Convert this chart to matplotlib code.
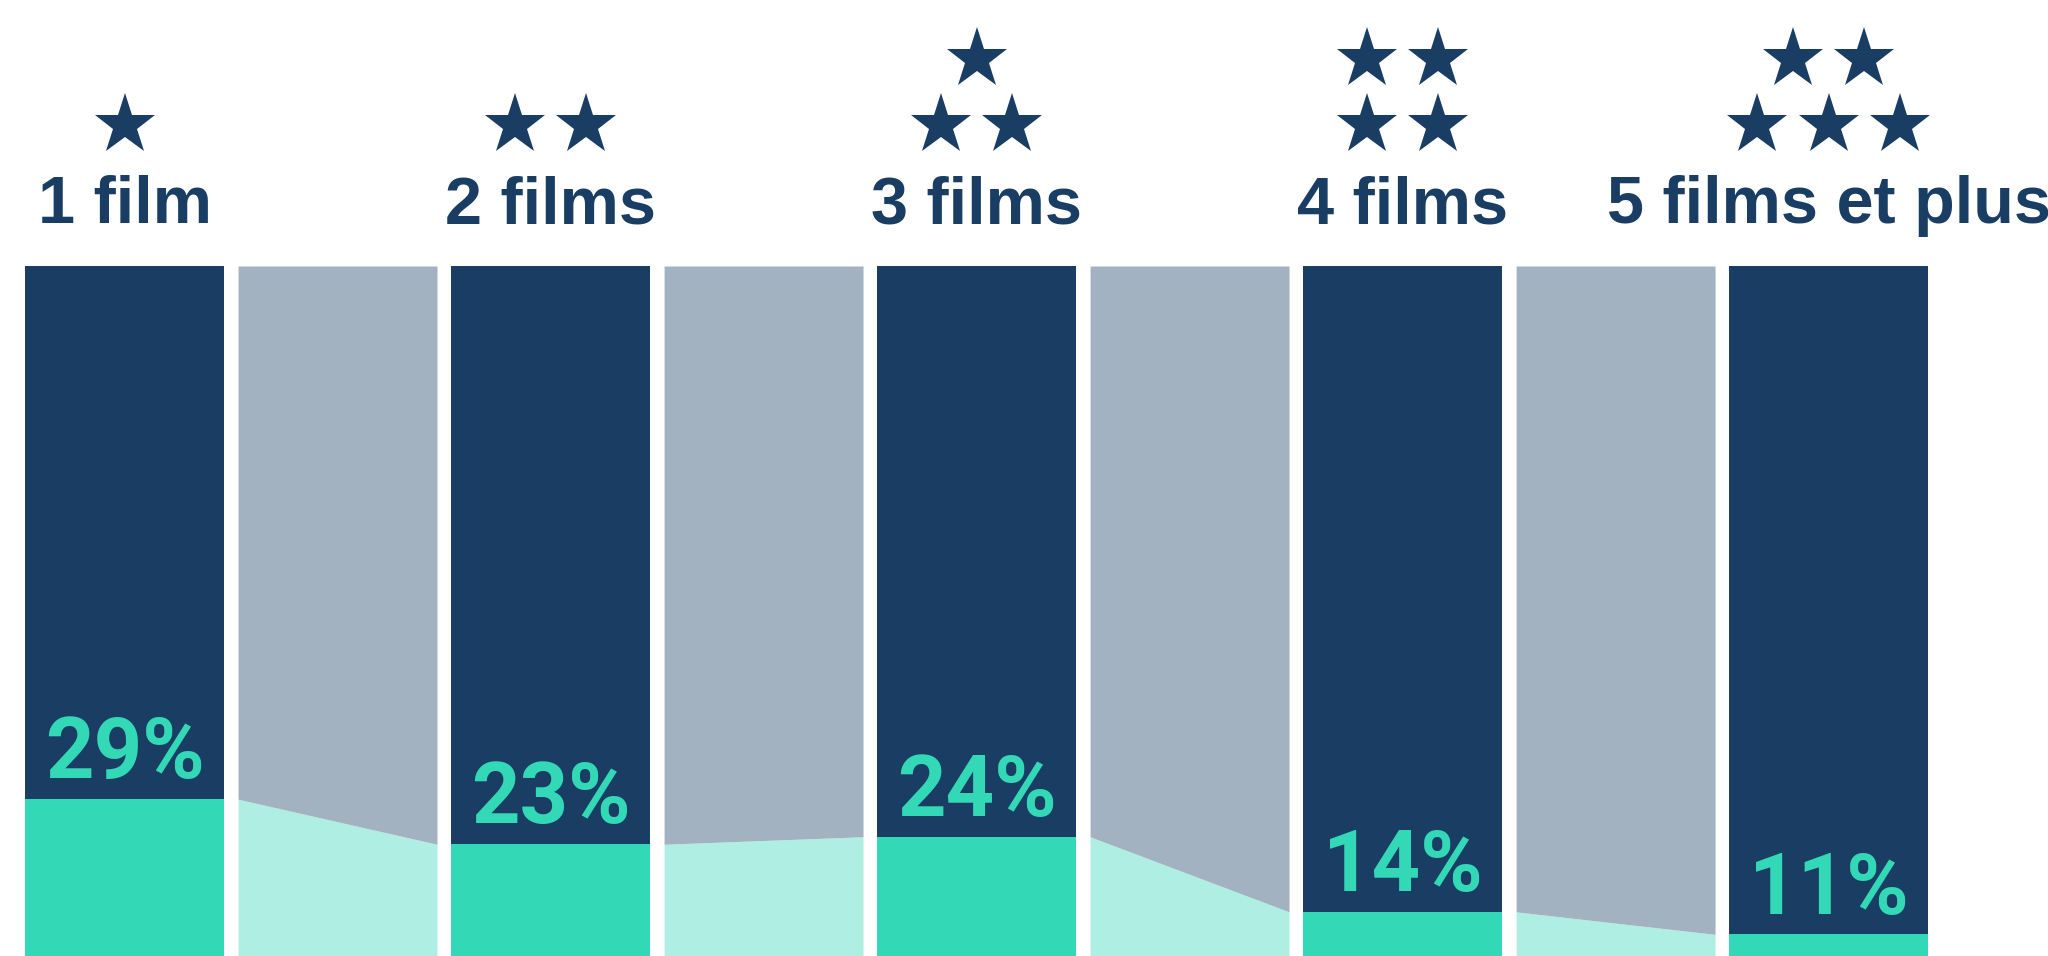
import matplotlib
matplotlib.use("Agg")
import matplotlib.pyplot as plt
from matplotlib.transforms import offset_copy

# data
categories = ["1 film", "2 films", "3 films", "4 films", "5 films et plus"]
shares = [29, 23, 24, 14, 11]
stars = [1, 2, 3, 4, 5]
star_rows = {1: [1], 2: [2], 3: [1, 2], 4: [2, 2], 5: [2, 3]}

DARK = "#193D63"
GREY = "#A3B2C1"
TEAL = "#33D9B7"
LIGHT = "#AFEEE2"

fig = plt.figure(figsize=(20.48, 9.56), dpi=100)
ax = fig.add_axes([0, 0, 1, 1])
ax.set_xlim(-0.5845, 9.030)
ax.set_ylim(8.12, 135.42)
ax.axis("off")

w = 0.934
xs = [2 * i for i in range(len(categories))]

# main bars: full 100% column in navy, share in teal
ax.bar(xs, [100] * len(xs), width=w, color=DARK, linewidth=0)
ax.bar(xs, shares, width=w, color=TEAL, linewidth=0)

# connecting panels between bars
for i in range(len(xs) - 1):
    xc = xs[i] + 1
    edge = [xc - w / 2, xc + w / 2]
    top = [shares[i], shares[i + 1]]
    ax.fill_between(edge, 0, top, color=LIGHT, linewidth=0)
    ax.fill_between(edge, top, 100, color=GREY, linewidth=0)

# percentages inside bars
for x, v in zip(xs, shares):
    ax.annotate(f"{v}%", (x, v), xytext=(0, 15), textcoords="offset points",
                ha="center", va="baseline", fontsize=61, fontweight="bold",
                family="Roboto", color=TEAL)

# category labels and stars above bars
for x, cat, n in zip(xs, categories, stars):
    ax.annotate(cat, (x, 100), xytext=(0, 30.6), textcoords="offset points",
                ha="center", va="baseline", fontsize=48, fontweight="bold",
                family="Liberation Sans", color=DARK)
    rows = star_rows[n]
    for r, m in enumerate(reversed(rows)):
        dy = 141 + 66 * r
        for j in range(m):
            dx = (j - (m - 1) / 2) * 71.3
            tr = offset_copy(ax.transData, fig=fig, x=dx, y=dy, units="dots")
            ax.plot([x], [100], marker="*", markersize=46, color=DARK,
                    markeredgewidth=0, transform=tr, clip_on=False)

fig.savefig("out.png", dpi=100)
